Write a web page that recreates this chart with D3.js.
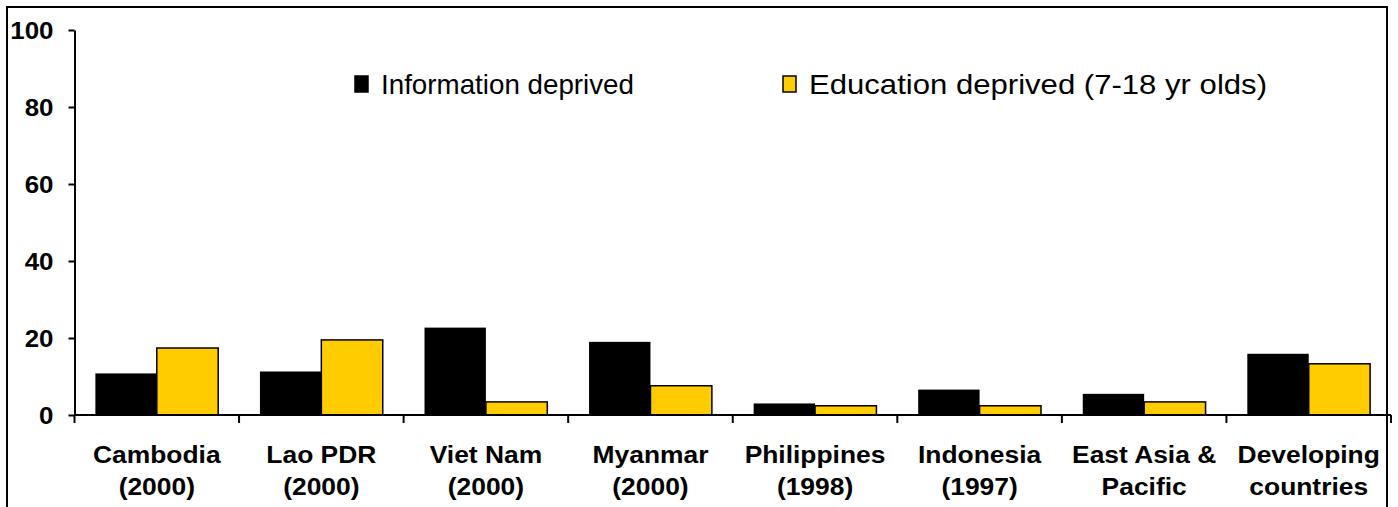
<!DOCTYPE html>
<html>
<head>
<meta charset="utf-8">
<script src="https://cdn.jsdelivr.net/npm/d3@7"></script>
<style>
  body { margin: 0; background: #fff; }
  svg { display: block; }
</style>
</head>
<body>
<div class="chart"></div>
<script>
const categories = [
  ["Cambodia", "(2000)"],
  ["Lao PDR", "(2000)"],
  ["Viet Nam", "(2000)"],
  ["Myanmar", "(2000)"],
  ["Philippines", "(1998)"],
  ["Indonesia", "(1997)"],
  ["East Asia &", "Pacific"],
  ["Developing", "countries"]
];
const seriesNames = ["Information deprived", "Education deprived (7-18 yr olds)"];
const infoDeprived = [10.8, 11.3, 22.7, 19.0, 3.0, 6.6, 5.5, 15.9];
const eduDeprived = [17.4, 19.5, 3.4, 7.6, 2.4, 2.4, 3.4, 13.3];
const yTicks = [0, 20, 40, 60, 80, 100];
const colors = ["#000000", "#FFCC00"];

const width = 1398, height = 507;
const left = 74.5, right = 1391, y0 = 415, y100 = 30;
const font = "'Liberation Sans', Arial, sans-serif";

const svg = d3.select(".chart")
  .append("svg")
  .attr("width", width)
  .attr("height", height);

// outer frame (bottom edge is cut off in the picture)
svg.append("rect")
  .attr("x", 7)
  .attr("y", 7)
  .attr("width", 1387 - 7)
  .attr("height", 600)
  .attr("fill", "none")
  .attr("stroke", "#000")
  .attr("stroke-width", 2);

const keys = categories.map(d => d.join(" "));
const data = keys.map((k, i) => ({ key: k, label: categories[i], values: [infoDeprived[i], eduDeprived[i]] }));

const xScale = d3.scaleBand()
  .domain(keys)
  .range([left, right])
  .padding(0);

const xInner = d3.scaleBand()
  .domain([0, 1])
  .range([0, xScale.bandwidth()])
  .paddingInner(0)
  .paddingOuter(0.34);

const yScale = d3.scaleLinear()
  .domain([0, 100])
  .range([y0, y100]);

// bars
const groups = svg.selectAll("g.cat")
  .data(data)
  .join("g")
  .attr("class", "cat")
  .attr("transform", d => `translate(${xScale(d.key)}, 0)`);

groups.selectAll("rect")
  .data(d => d.values.map((v, j) => ({ v, j })))
  .join("rect")
  .attr("x", d => xInner(d.j))
  .attr("y", d => yScale(d.v))
  .attr("width", xInner.bandwidth())
  .attr("height", d => y0 - yScale(d.v))
  .attr("fill", d => colors[d.j])
  .attr("stroke", "#000")
  .attr("stroke-width", d => d.j === 1 ? 1.5 : 0);

// y axis
const yAxis = svg.append("g")
  .attr("transform", `translate(${left}, 0)`)
  .call(d3.axisLeft(yScale).tickValues(yTicks).tickSize(6).tickSizeOuter(0).tickPadding(15));
yAxis.select(".domain").attr("stroke-width", 2);
yAxis.selectAll(".tick line").attr("stroke-width", 2);
yAxis.selectAll(".tick text")
  .attr("x", 0)
  .attr("dy", 0)
  .attr("transform", "translate(-21, 8.5) scale(1.08, 1)")
  .style("font-family", font)
  .style("font-weight", "bold")
  .style("font-size", "24px")
  .attr("fill", "#000");

// x axis line and boundary ticks
svg.append("line")
  .attr("x1", left)
  .attr("x2", right)
  .attr("y1", y0)
  .attr("y2", y0)
  .attr("stroke", "#000")
  .attr("stroke-width", 2);

const boundaries = keys.map(k => xScale(k)).concat([xScale.range()[1]]);
svg.selectAll("line.xtick")
  .data(boundaries)
  .join("line")
  .attr("class", "xtick")
  .attr("x1", d => d)
  .attr("x2", d => d)
  .attr("y1", y0)
  .attr("y2", y0 + 8)
  .attr("stroke", "#000")
  .attr("stroke-width", 2);

// category labels (slightly wide, like the original)
const labels = svg.selectAll("text.xlab")
  .data(data)
  .join("text")
  .attr("class", "xlab")
  .attr("transform", d => `translate(${xScale(d.key) + xScale.bandwidth() / 2}, 463) scale(1.1, 1)`)
  .attr("text-anchor", "middle")
  .style("font-family", font)
  .style("font-weight", "bold")
  .style("font-size", "24px");

labels.selectAll("tspan")
  .data(d => d.label)
  .join("tspan")
  .attr("x", 0)
  .attr("dy", (d, i) => i === 0 ? 0 : 32.5)
  .text(d => d);

// legend
const legendX = [355, 783];
const legendTextWidth = [253, 458];
const legend = svg.selectAll("g.legend")
  .data(seriesNames)
  .join("g")
  .attr("class", "legend")
  .attr("transform", (d, i) => `translate(${legendX[i]}, 76)`);

legend.append("rect")
  .attr("x", 0)
  .attr("y", 0)
  .attr("width", 13)
  .attr("height", 16)
  .attr("fill", (d, i) => colors[i])
  .attr("stroke", "#000")
  .attr("stroke-width", 1.5);

legend.append("text")
  .text(d => d)
  .attr("x", 26)
  .attr("y", 18)
  .attr("textLength", (d, i) => legendTextWidth[i])
  .attr("lengthAdjust", "spacingAndGlyphs")
  .style("font-family", font)
  .style("font-size", "28px");
</script>
</body>
</html>
